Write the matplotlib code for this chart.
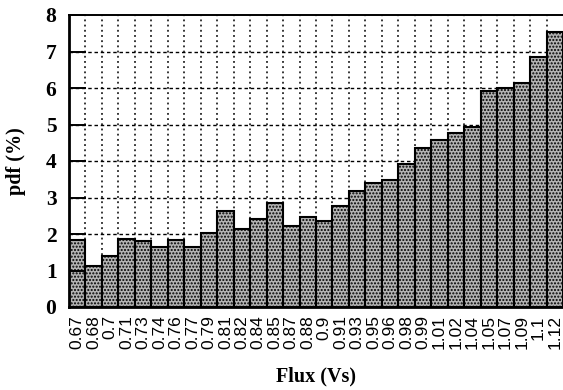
import matplotlib
matplotlib.use("Agg")
import matplotlib.pyplot as plt
import numpy as np

# Flux bins (Vs) and probability density per bin (%)
flux_bins = ["0.67", "0.68", "0.7", "0.71", "0.73", "0.74", "0.76", "0.77",
             "0.79", "0.81", "0.82", "0.84", "0.85", "0.87", "0.88", "0.9",
             "0.91", "0.93", "0.95", "0.96", "0.98", "0.99", "1.01", "1.02",
             "1.04", "1.05", "1.07", "1.09", "1.1", "1.12"]
pdf_pct = [1.83, 1.12, 1.40, 1.86, 1.81, 1.65, 1.83, 1.64, 2.04, 2.62,
           2.15, 2.41, 2.84, 2.21, 2.47, 2.36, 2.78, 3.18, 3.40, 3.48,
           3.92, 4.36, 4.57, 4.78, 4.94, 5.93, 6.01, 6.15, 6.84, 7.54]
y_ticks = [0, 1, 2, 3, 4, 5, 6, 7, 8]

SERIF = "Liberation Serif"
SANS = "Liberation Sans"

plt.rcParams["hatch.linewidth"] = 1.0

fig = plt.figure(figsize=(5.63, 3.90), dpi=100)
ax = fig.add_axes([69 / 563, 83 / 390, 494 / 563, 292 / 390])

n = len(flux_bins)
x = np.arange(n) + 0.5

# dotted grid sits behind the bars
ax.vlines(np.arange(1, n), 0, 8, colors="black", linestyles=(0, (1.2, 2.2)),
          linewidth=1.1, zorder=1)
ax.hlines(y_ticks[1:-1], 0, n, colors="black", linestyles=(0, (2.5, 2)),
          linewidth=1.0, zorder=1)

ax.bar(x, pdf_pct, width=1.0, color="#b4b4b4", edgecolor="black",
       linewidth=1.5, hatch=".....", zorder=2)

ax.set_axisbelow(False)
ax.set_xlim(0, n)
ax.set_ylim(0, 8)

ax.set_yticks(y_ticks)
ax.set_yticklabels([str(t) for t in y_ticks], fontfamily=SERIF,
                   fontweight="bold", fontsize=15.5)
ax.tick_params(axis="y", direction="in", length=12, width=1.4, pad=9)

ax.set_xticks(x)
ax.set_xticklabels(flux_bins, rotation=90, fontfamily=SANS, fontsize=12.5)
ax.tick_params(axis="x", length=0, pad=6)

for side in ("left", "bottom"):
    ax.spines[side].set_linewidth(2.0)
ax.spines["top"].set_linewidth(1.4)
ax.spines["right"].set_visible(False)

ax.set_xlabel("Flux (Vs)", fontfamily=SERIF, fontweight="bold", fontsize=14.5,
              labelpad=12)
ax.set_ylabel("pdf (%)", fontfamily=SERIF, fontweight="bold", fontsize=14.5,
              labelpad=14)

fig.savefig("out.png", dpi=100, facecolor="white")
plt.close(fig)
